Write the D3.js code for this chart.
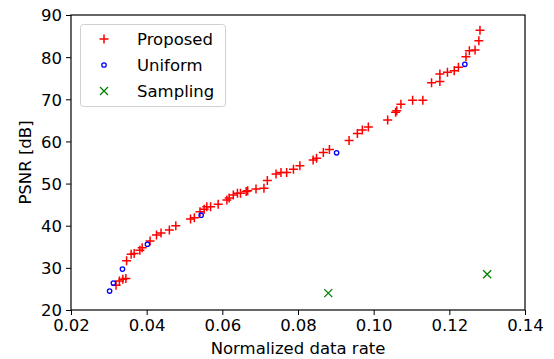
<!DOCTYPE html>
<html><head><meta charset="utf-8">
<script src="https://cdn.jsdelivr.net/npm/d3@7"></script>
<style>body{margin:0;background:#fff}svg{display:block}text{font-family:"DejaVu Sans",sans-serif}</style>
</head><body>
<svg id="c" width="554" height="359"></svg>
<script>
const proposedX = [0.0319,0.0328,0.0337,0.0345,0.0347,0.0359,0.0367,0.0382,0.0388,0.0409,0.0426,0.0438,0.0460,0.0477,
  0.0516,0.0526,0.0541,0.0552,0.0559,0.0569,0.0589,0.0612,0.0618,0.0629,0.0640,0.0648,0.0663,0.0667,0.0689,0.0710,
  0.0719,0.0742,0.0755,0.0770,0.0788,0.0805,0.0840,0.0849,0.0867,0.0883,0.0935,0.0957,0.0970,0.0986,0.1037,0.1058,
  0.1061,0.1072,0.1103,0.1130,0.1153,0.1175,0.1175,0.1195,0.1213,0.1224,0.1244,0.1253,0.1268,0.1278,0.1281];
const proposedY = [25.9,26.9,27.3,27.5,31.7,33.2,33.4,34.2,34.8,36.4,37.8,38.3,39.0,40.0,
  41.6,41.9,43.3,43.9,44.5,44.5,45.1,46.1,46.6,47.3,47.7,47.7,48.1,48.3,48.7,48.9,
  50.7,52.3,52.6,52.6,53.4,54.2,55.6,56.0,57.4,58.1,60.2,61.9,62.7,63.4,65.1,66.9,
  67.3,68.8,69.8,69.8,73.9,74.2,76.0,76.4,76.8,77.6,80.1,81.5,81.7,83.9,86.4];
const uniformX = [0.0302,0.0312,0.0336,0.0402,0.0544,0.0902,0.1241];
const uniformY = [24.5,26.4,29.7,35.6,42.5,57.3,78.3];
const samplingX = [0.0880,0.1300];
const samplingY = [24.0,28.5];
const xTicks = [0.02,0.04,0.06,0.08,0.10,0.12,0.14];
const yTicks = [20,30,40,50,60,70,80,90];
const legendLabels = ["Proposed","Uniform","Sampling"];

const svg = d3.select("#c");
const L=71,R=525,T=15,B=310;
const x = d3.scaleLinear().domain([0.02,0.14]).range([L,R]);
const y = d3.scaleLinear().domain([20,90]).range([B,T]);
const FS = 16.5;

const gx = svg.append("g").attr("transform",`translate(0,${B})`)
  .call(d3.axisBottom(x).tickValues(xTicks).tickFormat(d3.format(".2f")).tickSize(5).tickPadding(4));
const gy = svg.append("g").attr("transform",`translate(${L},0)`)
  .call(d3.axisLeft(y).tickValues(yTicks).tickFormat(d3.format("d")).tickSize(5).tickPadding(4));
[gx,gy].forEach(g=>{g.selectAll("text").attr("font-size",FS).attr("fill","#000").style("font-family","DejaVu Sans");
  g.select(".domain").remove(); g.selectAll(".tick line").attr("stroke","#000");});
gy.selectAll("text").attr("dy","0.36em");

// spines
svg.append("rect").attr("x",L).attr("y",T).attr("width",R-L).attr("height",B-T)
  .attr("fill","none").attr("stroke","#000").attr("stroke-width",1.2);

const pts = svg.append("g");
const a = 4.5;
pts.selectAll("path.p").data(proposedX.map((d,i)=>[d,proposedY[i]])).join("path")
  .attr("d",d=>`M${x(d[0])-a},${y(d[1])}h${2*a}M${x(d[0])},${y(d[1])-a}v${2*a}`)
  .attr("stroke","#ff0000").attr("stroke-width",1.5).attr("fill","none");
pts.selectAll("circle").data(uniformX.map((d,i)=>[d,uniformY[i]])).join("circle")
  .attr("cx",d=>x(d[0])).attr("cy",d=>y(d[1])).attr("r",2.2)
  .attr("stroke","#0000ff").attr("stroke-width",1.3).attr("fill","none");
const b = 4;
pts.selectAll("path.s").data(samplingX.map((d,i)=>[d,samplingY[i]])).join("path")
  .attr("d",d=>`M${x(d[0])-b},${y(d[1])-b}l${2*b},${2*b}M${x(d[0])-b},${y(d[1])+b}l${2*b},${-2*b}`)
  .attr("stroke","#008000").attr("stroke-width",1.3).attr("fill","none");

// labels
svg.append("text").attr("x",(L+R)/2).attr("y",354).attr("text-anchor","middle").attr("font-size",FS).text("Normalized data rate");
svg.append("text").attr("transform",`translate(31,${(T+B)/2}) rotate(-90)`).attr("text-anchor","middle").attr("font-size",FS).text("PSNR [dB]");

// legend
const lg = svg.append("g");
lg.append("rect").attr("x",80.5).attr("y",24.5).attr("width",145).attr("height",82).attr("rx",3)
  .attr("fill","#fff").attr("fill-opacity",0.8).attr("stroke","#d0d0d0").attr("stroke-width",1);
const rows=[39,65,91], mx=104;
lg.append("path").attr("d",`M${mx-a},${rows[0]}h${2*a}M${mx},${rows[0]-a}v${2*a}`).attr("stroke","#ff0000").attr("stroke-width",1.5);
lg.append("circle").attr("cx",mx).attr("cy",rows[1]).attr("r",2.2).attr("stroke","#0000ff").attr("stroke-width",1.3).attr("fill","none");
lg.append("path").attr("d",`M${mx-b},${rows[2]-b}l${2*b},${2*b}M${mx-b},${rows[2]+b}l${2*b},${-2*b}`).attr("stroke","#008000").attr("stroke-width",1.3);
legendLabels.forEach((t,i)=>lg.append("text").attr("x",137).attr("y",rows[i]).attr("dy","0.36em").attr("font-size",FS).text(t));
</script>
</body></html>
